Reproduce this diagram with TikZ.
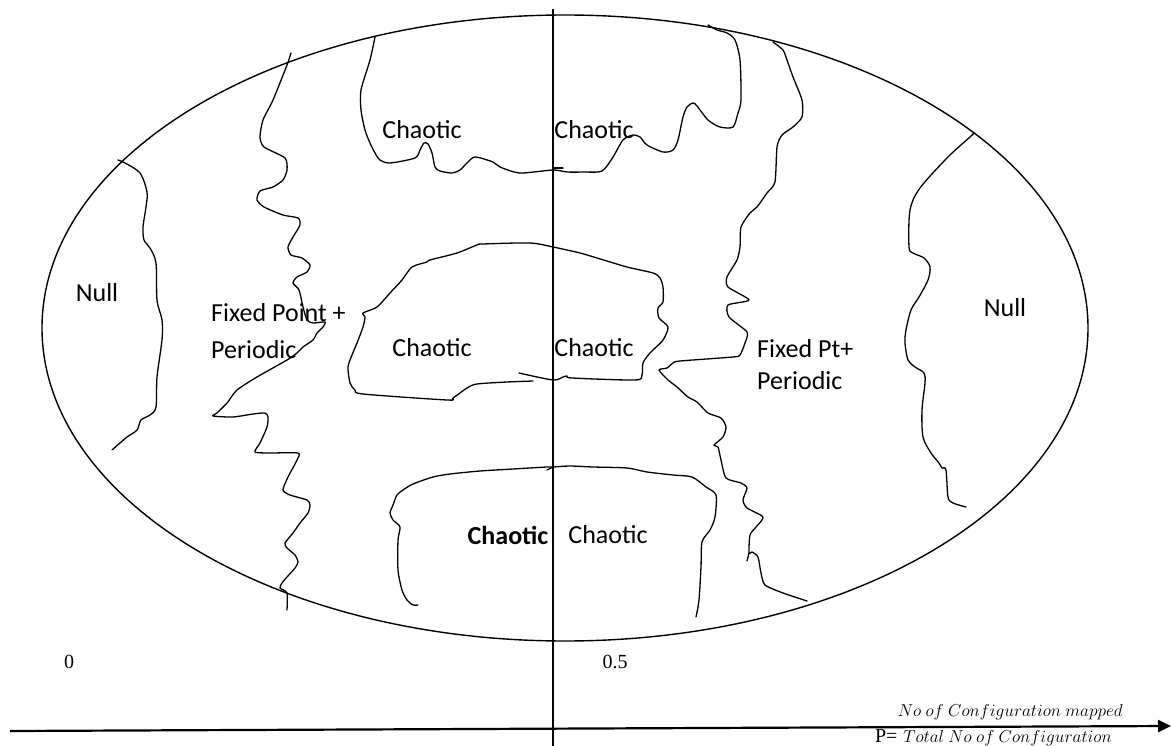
\documentclass[tikz,border=0pt]{standalone}
\usepackage{fontspec}
\setmainfont{Carlito}
\newfontfamily\timesf{Liberation Serif}
\usetikzlibrary{arrows.meta}
\begin{document}
\begin{tikzpicture}[x=1pt,y=-1pt,
  curve/.style={line width=1.3pt, line join=round, line cap=round},
  region/.style={font=\fontsize{26}{34}\selectfont, inner sep=0pt},
  axislbl/.style={font=\timesf\fontsize{20}{24}\selectfont, inner sep=0pt},
  fracpart/.style={font=\fontsize{19}{22}\selectfont, inner sep=0pt}]
\useasboundingbox (0,0) rectangle (1171,746);
\fill[white] (0,0) rectangle (1171,746);

% outer ellipse
\draw[line width=1.4pt] (565,328) ellipse [x radius=523, y radius=313];

% vertical line at 0.5
\coordinate (vtop) at (553,9);
\coordinate (vbot) at (553,746);
\draw[line width=1.3pt] (vtop) -- (vbot);

% horizontal axis
\coordinate (axL) at (10,731);
\coordinate (axR) at (1171,726);
\draw[line width=2.2pt, -{Triangle[length=13pt,width=12pt]}] (axL) -- (axR);

% left Null boundary
\draw[curve] plot[smooth, tension=0.5] coordinates {(118,160) (125,163) (140,173) (147,192) (146,207) (143,227) (144,240) (150,248) (156,263) (157,300) (162,320) (162,340) (157,377) (156,407) (150,415) (141,420) (137,430) (127,437) (120,443) (112,450)};

% left fixed point boundary
\draw[curve] plot[smooth, tension=0.4] coordinates {(291,53) (287,65) (273,100) (263,120) (260,137) (264,147) (285,158) (287,170) (283,180) (273,187) (260,191) (257,200) (264,207) (283,215) (298,218) (300,225) (293,237) (288,247) (291,255) (302,258) (310,265) (307,272) (297,277) (293,283) (299,290) (303,307) (307,320) (313,323) (325,322) (323,327) (317,333) (313,340) (303,347) (297,353) (287,360) (257,377) (237,390) (227,403) (217,413) (213,416) (233,417) (253,414) (265,413) (268,417) (267,427) (260,443) (255,452) (270,453) (298,453) (297,460) (288,477) (283,490) (290,495) (307,500) (310,505) (308,513) (300,523) (293,533) (285,543) (287,548) (295,555) (298,562) (295,568) (287,577) (282,583) (280,588) (287,593) (287,610)};

% top chaotic boundary
\draw[curve] plot[smooth, tension=0.45] coordinates {(375,37) (370,60) (361,90) (361,110) (365,130) (370,143) (375,153) (380,160) (390,163) (415,158) (420,150) (424,143) (428,144) (432,153) (435,167) (440,171) (452,173) (460,170) (467,163) (475,157) (493,162) (500,167) (520,173) (553,170) (567,172) (583,172) (602,171) (613,157) (623,140) (633,135) (640,137) (647,145) (663,152) (673,150) (678,140) (683,117) (687,107) (693,103) (697,106) (708,120) (720,127) (733,127) (738,113) (741,100) (740,60) (735,40) (727,33) (717,30) (708,25)};
\draw[curve] (553,168) -- (563,168);

% right fixed point boundary
\draw[curve] plot[smooth, tension=0.4] coordinates {(773,42) (783,50) (787,60) (793,77) (802,100) (802,117) (793,127) (782,135) (777,147) (775,182) (767,193) (757,207) (750,213) (741,227) (740,247) (737,260) (727,277) (728,287) (749,300) (728,305) (729,317) (747,332) (745,343) (740,355) (733,357) (680,361) (673,363) (667,368) (659,370) (668,380) (677,387) (688,397) (697,402) (708,413) (721,418) (726,427) (723,437) (714,445) (718,447) (721,460) (726,478) (741,483) (747,488) (743,500) (747,508) (763,517) (756,527) (750,535) (749,553) (752,552) (758,557) (761,573) (765,585) (783,593) (807,601)};
\draw[curve] (749,553) -- (747,561);

% right Null boundary
\draw[curve] plot[smooth, tension=0.5] coordinates {(974,133) (970,137) (948,157) (920,188) (910,210) (909,247) (913,253) (924,258) (930,267) (928,280) (919,297) (911,310) (906,330) (905,343) (908,360) (915,367) (924,373) (925,383) (922,410) (923,437) (931,453) (939,463) (942,468) (946,470) (948,497) (953,503) (966,507)};

% middle chaotic region
\draw[curve] plot[smooth, tension=0.45] coordinates {(519,373) (553,380) (563,377) (567,376) (572,378) (635,380) (642,375) (643,363) (650,353) (663,340) (668,327) (659,318) (658,308) (663,302) (663,287) (660,278) (653,273) (627,267) (597,258) (580,253) (553,247) (530,243) (483,244) (477,245) (457,253) (430,260) (427,262) (412,267) (402,280) (390,293) (377,307) (363,313) (365,317) (363,327) (357,343) (352,355) (348,367) (350,383) (355,390) (363,394) (447,400) (453,398) (467,388) (477,384) (507,382) (533,381)};

% bottom chaotic region
\draw[curve] plot[smooth, tension=0.45] coordinates {(418,605) (413,605) (407,600) (402,590) (398,570) (398,540) (400,527) (393,520) (390,513) (393,505) (397,495) (403,490) (413,484) (433,477) (450,474) (480,471) (513,469) (547,467) (553,467) (570,466) (593,467) (627,468) (647,472) (673,475) (692,477) (706,487) (716,495) (715,517) (710,530) (702,542) (701,567) (699,600) (696,617)};
\draw[curve] (547,470) -- (553,467);

% region labels
\node[region] (nullL) at (97,293) {Null};
\node[region, align=left, anchor=west, font=\fontsize{26}{37}\selectfont] (fixL) at (211,331) {Fixed Point +\\Periodic};
\node[region] (chTL) at (422,130) {Chaotic};
\node[region] (chTR) at (594,130) {Chaotic};
\node[region] (chML) at (432,348) {Chaotic};
\node[region] (chMR) at (594,348) {Chaotic};
\node[region, align=left, anchor=west, font=\fontsize{26}{32}\selectfont] (fixR) at (757,365) {Fixed Pt+\\Periodic};
\node[region] (nullR) at (1005,308) {Null};
\node[region, font=\bfseries\fontsize{26}{34}\selectfont] (chBL) at (508,535) {Chaotic};
\node[region] (chBR) at (608,535) {Chaotic};

% axis labels
\node[axislbl] (zero) at (69,662) {0};
\node[axislbl] (half) at (615,662) {0.5};

% formula
\node[fracpart, anchor=base east] (num) at (1123,716) {$No\ of\ Configuration\ mapped$};
\node[fracpart, anchor=base east] (den) at (1112,742) {$Total\ No\ of\ Configuration$};
\node[axislbl, anchor=base east] (peq) at (num.west |- 0,742) {P=};
\end{tikzpicture}
\end{document}
